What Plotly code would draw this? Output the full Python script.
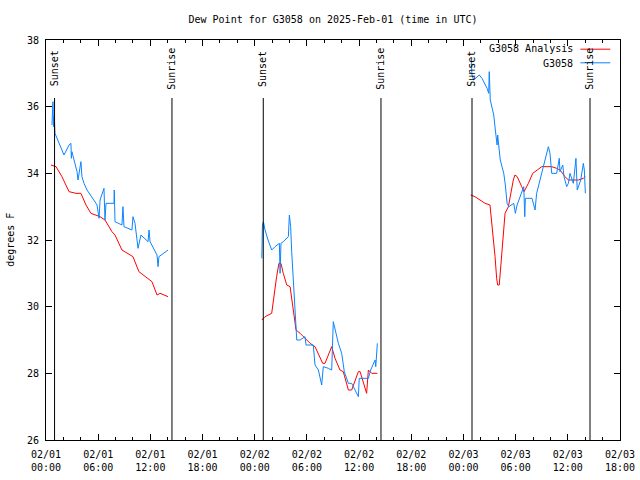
import plotly.graph_objects as go

# ---------------- data ----------------
# Observations (G3058)
obs_t1 = ["2025-02-01 00:41","2025-02-01 00:48","2025-02-01 00:52","2025-02-01 00:55","2025-02-01 00:59",
          "2025-02-01 01:02","2025-02-01 02:04","2025-02-01 02:39","2025-02-01 02:52","2025-02-01 02:55",
          "2025-02-01 02:59","2025-02-01 03:34","2025-02-01 03:41","2025-02-01 04:01","2025-02-01 04:05",
          "2025-02-01 04:08","2025-02-01 04:22","2025-02-01 04:43","2025-02-01 05:45","2025-02-01 05:52",
          "2025-02-01 06:06","2025-02-01 06:13","2025-02-01 06:40","2025-02-01 06:47","2025-02-01 06:54",
          "2025-02-01 07:49","2025-02-01 07:51","2025-02-01 07:56","2025-02-01 08:44","2025-02-01 08:51",
          "2025-02-01 08:58","2025-02-01 09:53","2025-02-01 10:00","2025-02-01 10:14","2025-02-01 10:28",
          "2025-02-01 10:35","2025-02-01 10:55","2025-02-01 11:44","2025-02-01 11:51","2025-02-01 11:58",
          "2025-02-01 12:46","2025-02-01 12:53","2025-02-01 12:59","2025-02-01 13:41","2025-02-01 14:02"]
obs_v1 = [35.45, 36.15, 35.4, 35.7, 35.5,
          35.2, 34.55, 34.85, 34.9, 34.45,
          34.65, 34.05, 33.8, 34.35, 34.1,
          33.9, 33.7, 33.5, 33.1, 33.05,
          32.65, 33.2, 33.55, 32.6, 33.1,
          33.1, 33.5, 32.55, 32.45, 33.0,
          32.4, 32.3, 32.7, 32.5, 32.0,
          31.75, 32.15, 31.95, 32.3, 31.95,
          31.55, 31.2, 31.5, 31.65, 31.7]

obs_t2 = ["2025-02-02 00:49","2025-02-02 00:53","2025-02-02 01:00","2025-02-02 01:11","2025-02-02 01:32",
          "2025-02-02 01:57","2025-02-02 02:20","2025-02-02 02:50","2025-02-02 02:55","2025-02-02 03:01",
          "2025-02-02 03:17","2025-02-02 03:52","2025-02-02 03:59","2025-02-02 04:08","2025-02-02 04:15",
          "2025-02-02 04:26","2025-02-02 04:38","2025-02-02 04:50","2025-02-02 05:13","2025-02-02 05:47",
          "2025-02-02 05:54","2025-02-02 06:44","2025-02-02 06:56","2025-02-02 07:19","2025-02-02 07:42",
          "2025-02-02 07:53","2025-02-02 08:28","2025-02-02 08:51","2025-02-02 09:02","2025-02-02 09:14",
          "2025-02-02 09:37","2025-02-02 10:00","2025-02-02 10:18","2025-02-02 10:46","2025-02-02 11:09",
          "2025-02-02 11:55","2025-02-02 12:01","2025-02-02 13:04","2025-02-02 13:20","2025-02-02 13:50",
          "2025-02-02 13:55","2025-02-02 14:06"]
obs_v2 = [31.45, 32.45, 32.55, 32.3, 32.0,
          31.7, 31.8, 31.9, 31.0, 31.9,
          31.95, 32.1, 32.75, 32.4, 31.65,
          30.8, 29.85, 29.0, 29.0, 29.1,
          28.85, 28.85, 28.25, 28.1, 27.65,
          28.2, 28.15, 28.1, 29.55, 29.3,
          28.9, 28.6, 28.05, 27.7, 27.7,
          27.3, 27.85, 27.85, 28.1, 28.4,
          28.2, 28.9]

obs_t3 = ["2025-02-03 00:54","2025-02-03 00:59","2025-02-03 01:10","2025-02-03 01:33","2025-02-03 01:49",
          "2025-02-03 02:08","2025-02-03 02:43","2025-02-03 02:54","2025-02-03 02:58","2025-02-03 03:05",
          "2025-02-03 03:29","2025-02-03 03:40","2025-02-03 03:52","2025-02-03 03:56","2025-02-03 04:03",
          "2025-02-03 04:14","2025-02-03 04:38","2025-02-03 04:49","2025-02-03 05:01","2025-02-03 05:13",
          "2025-02-03 05:47","2025-02-03 05:58","2025-02-03 06:10","2025-02-03 06:56","2025-02-03 07:03",
          "2025-02-03 07:07","2025-02-03 07:53","2025-02-03 08:14","2025-02-03 08:25","2025-02-03 08:48",
          "2025-02-03 09:00","2025-02-03 09:23","2025-02-03 09:46","2025-02-03 09:57","2025-02-03 10:09",
          "2025-02-03 10:43","2025-02-03 11:01","2025-02-03 11:06","2025-02-03 11:25","2025-02-03 11:34",
          "2025-02-03 11:52","2025-02-03 12:04","2025-02-03 12:15","2025-02-03 12:38","2025-02-03 12:56",
          "2025-02-03 13:05","2025-02-03 13:29","2025-02-03 13:47","2025-02-03 13:54","2025-02-03 14:01"]
obs_v3 = [37.35, 36.95, 36.8, 36.9, 36.95,
          36.85, 36.55, 36.4, 37.05, 36.2,
          35.75, 35.3, 34.85, 35.15, 34.8,
          34.4, 34.0, 33.65, 33.1, 33.0,
          33.1, 32.8, 33.05, 33.6, 32.7,
          33.25, 33.25, 32.9, 33.4, 33.8,
          34.0, 34.4, 34.8, 34.6, 34.0,
          34.0, 34.45, 34.05, 34.25, 33.9,
          33.6, 33.7, 34.0, 33.7, 34.45,
          33.5, 33.8, 34.3, 34.1, 33.4]

# Analysis (G3058 Analysis)
ana_t1 = ["2025-02-01 00:34","2025-02-01 01:09","2025-02-01 01:50","2025-02-01 02:11","2025-02-01 02:39",
          "2025-02-01 03:27","2025-02-01 04:01","2025-02-01 04:36","2025-02-01 05:10","2025-02-01 06:13",
          "2025-02-01 06:47","2025-02-01 07:35","2025-02-01 07:56","2025-02-01 08:44","2025-02-01 09:40",
          "2025-02-01 10:00","2025-02-01 10:41","2025-02-01 11:44","2025-02-01 12:11","2025-02-01 12:46",
          "2025-02-01 13:07","2025-02-01 14:02"]
ana_v1 = [34.25, 34.2, 33.9, 33.7, 33.45,
          33.4, 33.4, 33.05, 32.8, 32.7,
          32.6, 32.25, 32.15, 31.7, 31.55,
          31.5, 31.05, 30.85, 30.75, 30.35,
          30.4, 30.3]

ana_t2 = ["2025-02-02 00:49","2025-02-02 01:11","2025-02-02 01:57","2025-02-02 02:13","2025-02-02 02:31",
          "2025-02-02 02:47","2025-02-02 03:01","2025-02-02 03:17","2025-02-02 03:41","2025-02-02 04:04",
          "2025-02-02 04:22","2025-02-02 04:38","2025-02-02 04:45","2025-02-02 05:13","2025-02-02 05:47",
          "2025-02-02 06:22","2025-02-02 06:56","2025-02-02 07:19","2025-02-02 07:49","2025-02-02 08:05",
          "2025-02-02 08:51","2025-02-02 09:14","2025-02-02 09:48","2025-02-02 10:11","2025-02-02 10:46",
          "2025-02-02 11:09","2025-02-02 11:55","2025-02-02 12:07","2025-02-02 12:52","2025-02-02 13:04",
          "2025-02-02 13:27","2025-02-02 14:06"]
ana_v2 = [29.6, 29.7, 29.8, 30.4, 30.9,
          31.3, 31.3, 31.0, 30.65, 30.6,
          30.05, 29.6, 29.3, 29.2, 29.05,
          28.9, 28.8, 28.6, 28.3, 28.3,
          28.8, 28.45, 28.1, 28.05, 27.5,
          27.5, 28.05, 28.05, 27.4, 28.1,
          28.0, 28.0]

ana_t3 = ["2025-02-03 00:50","2025-02-03 01:19","2025-02-03 01:54","2025-02-03 02:29","2025-02-03 03:03",
          "2025-02-03 03:15","2025-02-03 03:26","2025-02-03 03:38","2025-02-03 03:49","2025-02-03 03:56",
          "2025-02-03 04:07","2025-02-03 04:17","2025-02-03 04:31","2025-02-03 04:47","2025-02-03 05:10",
          "2025-02-03 05:26","2025-02-03 05:44","2025-02-03 05:55","2025-02-03 06:11","2025-02-03 06:42",
          "2025-02-03 06:58","2025-02-03 07:28","2025-02-03 07:58","2025-02-03 08:29","2025-02-03 09:00",
          "2025-02-03 09:38","2025-02-03 10:09","2025-02-03 10:43","2025-02-03 11:06","2025-02-03 11:41",
          "2025-02-03 12:04","2025-02-03 12:38","2025-02-03 13:13","2025-02-03 13:47","2025-02-03 14:01"]
ana_v3 = [33.35, 33.3, 33.2, 33.1, 33.05,
          32.55, 31.9, 31.5, 30.85, 30.65,
          30.65, 31.2, 32.0, 32.8, 33.0,
          33.4, 33.8, 33.95, 33.9, 33.6,
          33.45, 33.7, 34.0, 34.1, 34.2,
          34.2, 34.2, 34.15, 34.1, 33.9,
          33.8, 33.8, 33.8, 33.85, 33.9]

sun_times = ["2025-02-01 00:59", "2025-02-01 14:29", "2025-02-02 00:59",
             "2025-02-02 14:31", "2025-02-03 00:59", "2025-02-03 14:33"]
sun_labels = ["Sunset", "Sunrise", "Sunset", "Sunrise", "Sunset", "Sunrise"]

x_tickvals = ["2025-02-01 00:00", "2025-02-01 06:00", "2025-02-01 12:00", "2025-02-01 18:00",
              "2025-02-02 00:00", "2025-02-02 06:00", "2025-02-02 12:00", "2025-02-02 18:00",
              "2025-02-03 00:00", "2025-02-03 06:00", "2025-02-03 12:00", "2025-02-03 18:00"]
x_ticktext = ["02/01<br>00:00", "02/01<br>06:00", "02/01<br>12:00", "02/01<br>18:00",
              "02/02<br>00:00", "02/02<br>06:00", "02/02<br>12:00", "02/02<br>18:00",
              "02/03<br>00:00", "02/03<br>06:00", "02/03<br>12:00", "02/03<br>18:00"]
y_tickvals = [26, 28, 30, 32, 34, 36, 38]

title_text = "Dew Point for G3058 on 2025-Feb-01 (time in UTC)"
ana_name = "G3058 Analysis"
obs_name = "G3058"

RED = "#ff0000"
BLUE = "#0a84ff"
FONT = "DejaVu Sans Mono"

fig = go.Figure()
for t, v in [(ana_t1, ana_v1), (ana_t2, ana_v2), (ana_t3, ana_v3)]:
    fig.add_trace(go.Scatter(x=t, y=v, mode="lines", name=ana_name,
                             line=dict(color=RED, width=1), showlegend=False))
for t, v in [(obs_t1, obs_v1), (obs_t2, obs_v2), (obs_t3, obs_v3)]:
    fig.add_trace(go.Scatter(x=t, y=v, mode="lines", name=obs_name,
                             line=dict(color=BLUE, width=1), showlegend=False))

# sunrise / sunset markers
for t, lab in zip(sun_times, sun_labels):
    fig.add_shape(type="line", xref="x", yref="paper", x0=t, x1=t, y0=0, y1=0.855,
                  line=dict(color="black", width=1))
    fig.add_annotation(x=t, xref="x", y=0.928, yref="paper", text=lab, textangle=-90,
                       showarrow=False, xanchor="center", yanchor="middle",
                       font=dict(family=FONT, size=10, color="black"))

# manual gnuplot-style legend
fig.add_annotation(x=0.922, xref="paper", y=0.9775, yref="paper", text=ana_name,
                   showarrow=False, xanchor="right", yanchor="middle",
                   font=dict(family=FONT, size=10, color="black"))
fig.add_annotation(x=0.922, xref="paper", y=0.9425, yref="paper", text=obs_name,
                   showarrow=False, xanchor="right", yanchor="middle",
                   font=dict(family=FONT, size=10, color="black"))
fig.add_shape(type="line", xref="paper", yref="paper", x0=0.931, x1=0.983,
              y0=0.977, y1=0.977, line=dict(color=RED, width=1))
fig.add_shape(type="line", xref="paper", yref="paper", x0=0.931, x1=0.983,
              y0=0.943, y1=0.943, line=dict(color=BLUE, width=1))

# y-axis title
fig.add_annotation(x=-0.063, xref="paper", y=0.5, yref="paper", text="degrees F",
                   textangle=-90, showarrow=False, xanchor="center", yanchor="middle",
                   font=dict(family=FONT, size=10, color="black"))

fig.update_layout(
    width=640, height=480,
    margin=dict(l=46, r=20, t=40, b=40, autoexpand=False),
    paper_bgcolor="white", plot_bgcolor="white",
    font=dict(family=FONT, size=10, color="black"),
    title=dict(text=title_text, x=0.5, xref="paper", xanchor="center",
               y=1 - 19 / 480, yanchor="middle", automargin=False,
               font=dict(family=FONT, size=10, color="black")),
    showlegend=False,
    xaxis=dict(type="date", range=["2025-02-01 00:00", "2025-02-03 18:00"],
               tickvals=x_tickvals, ticktext=x_ticktext, tickangle=0, automargin=False,
               ticks="inside", ticklen=6, tickcolor="black", tickwidth=1,
               minor=dict(dtick=2 * 3600 * 1000, tick0="2025-02-01 00:00", ticks="inside",
                          ticklen=3, tickcolor="black", showgrid=False),
               showgrid=False, zeroline=False, showline=True, linecolor="black", linewidth=1,
               mirror="allticks", ticklabelstandoff=5),
    yaxis=dict(range=[26, 38], tickvals=y_tickvals, ticks="inside", ticklen=6, automargin=False,
               tickcolor="black", tickwidth=1, showgrid=False, zeroline=False,
               showline=True, linecolor="black", linewidth=1, mirror="allticks",
               ticklabelstandoff=4),
)

fig.write_html("out.html", config={"displayModeBar": False},
               post_script="document.body.style.margin='0';")
